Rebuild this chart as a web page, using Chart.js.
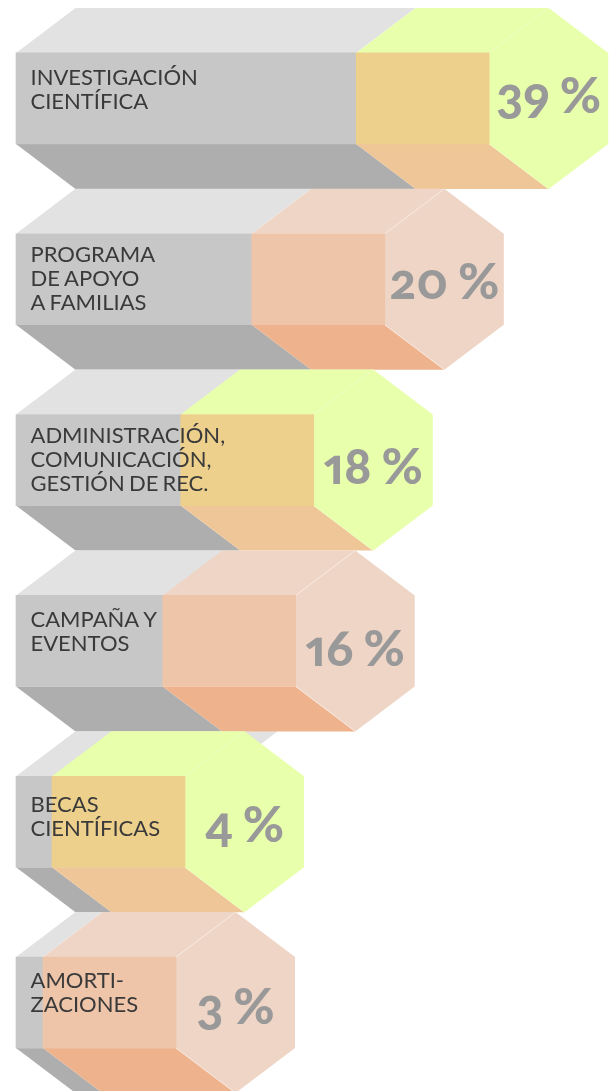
<!DOCTYPE html>
<html lang="es"><head><meta charset="utf-8">
<script src="https://cdn.jsdelivr.net/npm/chart.js@4"></script>
<style>
html,body{margin:0;padding:0;width:610px;height:1091px;overflow:hidden;background:#fff}
#wrap{position:relative;width:610px;height:1091px;overflow:hidden}
canvas{display:block}
.val{position:absolute;transform:translateX(-50%);white-space:nowrap;font-family:Lato,"Open Sans",sans-serif;font-weight:900;font-size:50px;line-height:1;color:#999;word-spacing:-2px;font-variant-numeric:oldstyle-nums proportional-nums;font-feature-settings:"onum" 1,"pnum" 1}
</style></head><body><div id="wrap"><canvas id="c" width="610" height="1100"></canvas></div>
<script>
const categories=[["INVESTIGACIÓN","CIENTÍFICA"],["PROGRAMA","DE APOYO","A FAMILIAS"],["ADMINISTRACIÓN,","COMUNICACIÓN,","GESTIÓN DE REC."],["CAMPAÑA Y","EVENTOS"],["BECAS","CIENTÍFICAS"],["AMORTI-","ZACIONES"]];
const percentLabels=[39,20,18,16,4,3];
// drawn length of each block (the artwork is not strictly to scale)
const drawnEnds=[37.8,26.2,18.3,16.3,4,3];
const greyReach=[23,11.4,3.6,1.6,7.7,-11.8];
const blockSpan=14.78, axisMin=-14.78, axisMax=51.22;
const green={cap:"#E8FFAB",front:"#EED08D",bottom:"#EFC698",seam:"#EDFFC0"};
const peach={cap:"#EFD5C6",front:"#EEC5A9",bottom:"#EEB38C",seam:"#F7E8DF"};
const rowStyles=[green,peach,green,peach,green,peach];
const grey={top:"#E2E2E2",front:"#C7C7C7",bottom:"#AEAEAE"};
const DX=59.5, DY=45;
const labelBaseline=[-13.5,-17.5,-17.5,-14,-9.5,-14.5];
const valueBaseline=[13.5,18.5,23,24,19,20];

function poly(ctx,pts,fill){ctx.beginPath();pts.forEach((p,i)=>i?ctx.lineTo(p[0],p[1]):ctx.moveTo(p[0],p[1]));ctx.closePath();ctx.fillStyle=fill;ctx.fill();}
const span=b=>{const p=b.getProps(["x","y","base","height"],true);return {l:Math.min(p.x,p.base),r:Math.max(p.x,p.base),t:p.y-p.height/2,u:p.y+p.height/2};};
const faces={id:"faces",
 beforeDatasetDraw(chart,args){
  const ctx=chart.ctx,meta=args.meta,isGrey=args.index===1;
  const colMeta=chart.getDatasetMeta(0);
  meta.data.forEach((b,i)=>{
   const {l,r,t,u}=span(b);
   if(isGrey){
    const cl=span(colMeta.data[i]).l;
    poly(ctx,[[l,t],[l+DX,t-DY],[r+DX,t-DY],[r,t]],grey.top);
    poly(ctx,[[l,u],[l+DX,u+DY],[cl+DX,u+DY],[cl,u]],grey.bottom);
   }else{
    const s=rowStyles[i];
    poly(ctx,[[l,t],[l+DX,t-DY],[r+DX,t-DY],[r,t]],s.cap);
    poly(ctx,[[l,u],[l+DX,u+DY],[r+DX,u+DY],[r,u]],s.bottom);
    poly(ctx,[[r,t],[r+DX,t-DY],[r+2*DX,t],[r+2*DX,u],[r+DX,u+DY],[r,u]],s.cap);
    ctx.strokeStyle=s.seam;ctx.lineWidth=1;ctx.beginPath();ctx.moveTo(r,t);ctx.lineTo(r+DX,t-DY);ctx.moveTo(r,u);ctx.lineTo(r+DX,u+DY);ctx.stroke();
   }
  });
 },
 afterDatasetsDraw(chart){
  const ctx=chart.ctx,ys=chart.scales.y;
  ctx.save();ctx.fillStyle="#3A3A3A";ctx.font='22px Lato,"Open Sans",sans-serif';ctx.wordSpacing="-1.5px";ctx.textAlign="left";ctx.textBaseline="alphabetic";
  categories.forEach((lines,i)=>{const y=ys.getPixelForValue(i)+labelBaseline[i];lines.forEach((ln,k)=>ctx.fillText(ln,30.5,y+k*24));});
  ctx.restore();
 }};
const chart=new Chart(document.getElementById("c"),{type:"bar",
 data:{labels:categories.map(c=>c.join(" ")),datasets:[
  {label:"Porcentaje",data:drawnEnds.map(v=>[v-blockSpan,v]),backgroundColor:rowStyles.map(s=>s.front),barThickness:91,grouped:false,clip:false,borderWidth:0},
  {label:"Base",data:greyReach.map(v=>[axisMin,v]),backgroundColor:grey.front,barThickness:91,grouped:false,clip:false,borderWidth:0}
 ]},
 options:{indexAxis:"y",responsive:false,animation:false,devicePixelRatio:1,
  layout:{padding:{left:16,right:0,top:8,bottom:7}},
  plugins:{legend:{display:false},tooltip:{enabled:false}},
  scales:{x:{type:"linear",display:false,min:axisMin,max:axisMax},y:{type:"category",display:false}}},
 plugins:[faces]});
const wrap=document.getElementById("wrap");
percentLabels.forEach((v,i)=>{
 const d=document.createElement("div");d.className="val";d.textContent=v+" %";
 d.style.left=(chart.scales.x.getPixelForValue(drawnEnds[i])+DX)+"px";
 wrap.appendChild(d);
 const base=chart.scales.y.getPixelForValue(i)+valueBaseline[i];
 d.style.top=(base-50*0.86)+"px";
});
</script></body></html>
